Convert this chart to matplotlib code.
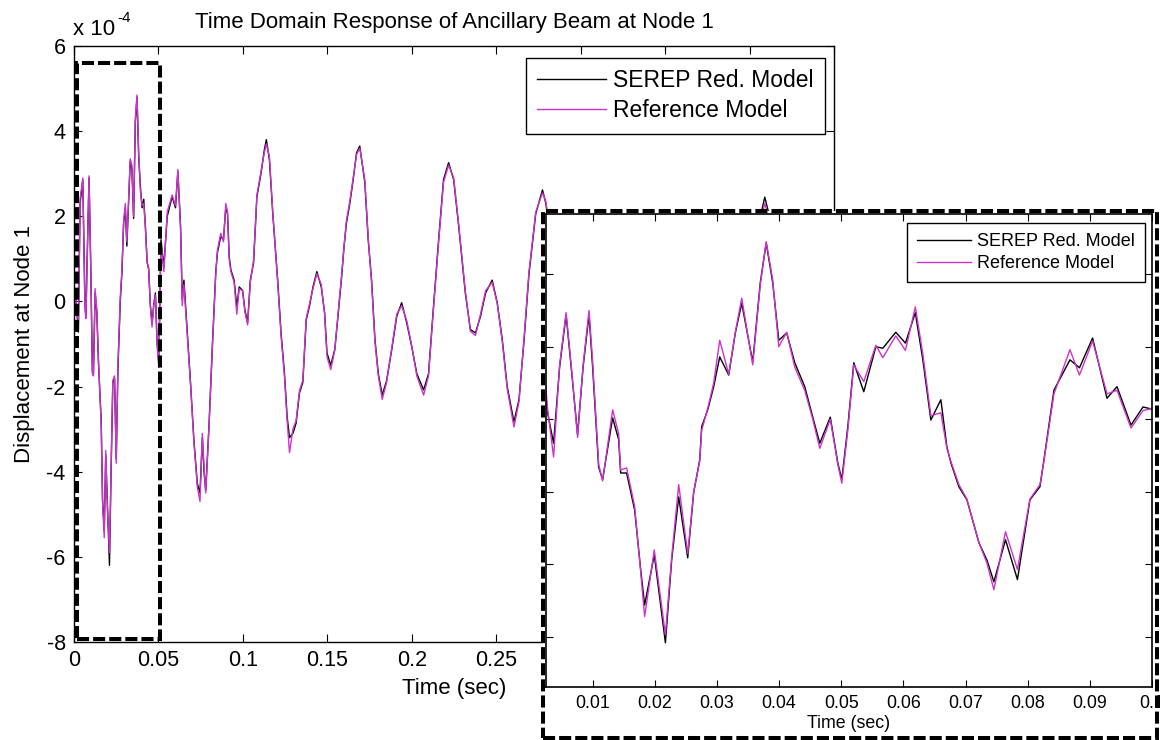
import matplotlib.pyplot as plt
from matplotlib.patches import Rectangle

plt.rcParams['font.family'] = ['Liberation Sans', 'DejaVu Sans']
plt.rcParams['axes.unicode_minus'] = False

# displacement at node 1, in units of 1e-4
t_main = [0.0, 0.0006, 0.0026, 0.0036, 0.0052, 0.0065, 0.0071, 0.0075, 0.0089, 0.0099,
          0.0109, 0.0115, 0.0125, 0.0135, 0.0145, 0.0161, 0.0169, 0.0179, 0.0188, 0.0198,
          0.0210, 0.0220, 0.0230, 0.0240, 0.0250, 0.0260, 0.0274, 0.0284, 0.0294, 0.0304,
          0.0313, 0.0323, 0.0333, 0.0343, 0.0353, 0.0363, 0.0373, 0.0383, 0.0393, 0.0403,
          0.0413, 0.0423, 0.0433, 0.0442, 0.0452, 0.0462, 0.0472, 0.0482, 0.0492, 0.0502,
          0.0515, 0.0532, 0.0552, 0.0581, 0.0601, 0.0615, 0.0631, 0.0641, 0.0651, 0.0671,
          0.0690, 0.0710, 0.0730, 0.0746, 0.0760, 0.0770, 0.0780, 0.0800, 0.0819, 0.0839,
          0.0849, 0.0869, 0.0885, 0.0899, 0.0909, 0.0919, 0.0929, 0.0948, 0.0964, 0.0978,
          0.0998, 0.1012, 0.1028, 0.1044, 0.1063, 0.1083, 0.1107, 0.1127, 0.1139, 0.1157,
          0.1177, 0.1206, 0.1226, 0.1246, 0.1262, 0.1276, 0.1296, 0.1315, 0.1335, 0.1355,
          0.1375, 0.1395, 0.1415, 0.1438, 0.1464, 0.1484, 0.1498, 0.1520, 0.1544, 0.1563,
          0.1583, 0.1599, 0.1613, 0.1633, 0.1653, 0.1673, 0.1692, 0.1722, 0.1742, 0.1762,
          0.1782, 0.1802, 0.1825, 0.1851, 0.1881, 0.1911, 0.1940, 0.1970, 0.2000, 0.2030,
          0.2070, 0.2099, 0.2129, 0.2159, 0.2188, 0.2218, 0.2248, 0.2278, 0.2317, 0.2347,
          0.2377, 0.2407, 0.2437, 0.2476, 0.2506, 0.2536, 0.2565, 0.2605, 0.2635, 0.2665,
          0.2694, 0.2734, 0.2774, 0.2794, 0.2813, 0.290, 0.300, 0.310, 0.320, 0.333,
          0.345, 0.355, 0.365, 0.375, 0.387, 0.395, 0.402, 0.409, 0.415, 0.425,
          0.435, 0.445, 0.450]

serep_main = [0.0, 0.3, -0.72, 2.3, 2.85, -0.08, -0.35, 0.5, 2.9, 0.85,
              -1.65, -1.7, 0.2, -0.25, -1.45, -2.8, -4.65, -5.4, -3.6, -4.8,
              -6.2, -3.9, -1.9, -1.8, -3.7, -1.6, 0.0, 0.7, 1.85, 2.2,
              1.3, 2.3, 3.3, 3.1, 1.95, 4.2, 4.8, 3.4, 2.7, 2.2,
              2.4, 1.75, 0.93, 0.75, -0.08, -0.53, -0.08, 0.2, -0.98, -1.45,
              1.45, 0.81, 2.0, 2.46, 2.2, 3.05, 1.76, 0.04, 0.5, -0.74,
              -1.92, -3.26, -4.27, -4.5, -3.2, -4.0, -4.44, -2.86, -1.07, 0.67,
              1.14, 1.53, 1.45, 2.22, 2.06, 1.05, 0.74, 0.5, -0.13, 0.34,
              0.26, -0.2, -0.5, 0.5, 0.9, 2.46, 3.0, 3.56, 3.8, 3.33,
              2.06, 0.5, -0.74, -1.68, -2.71, -3.2, -3.1, -2.86, -2.15, -1.9,
              -0.43, -0.1, 0.34, 0.7, 0.34, -0.27, -1.21, -1.5, -1.13, -0.35,
              0.5, 1.29, 1.84, 2.3, 2.86, 3.49, 3.65, 2.79, 1.45, 0.5,
              -0.9, -1.7, -2.2, -1.86, -1.14, -0.35, -0.03, -0.5, -1.07, -1.7,
              -2.08, -1.7, -0.1, 1.45, 2.86, 3.26, 2.86, 1.76, 0.2, -0.66,
              -0.74, -0.35, 0.2, 0.5, -0.03, -0.9, -2.0, -2.83, -2.3, -0.9,
              0.65, 2.06, 2.62, 2.3, 1.76, 0.0, -1.8, -2.2, -0.5, 1.9,
              0.3, -1.0, -2.4, -1.2, 1.0, 0.2, 1.2, 2.45, 1.5, -0.8,
              -2.2, -1.0, 0.3]

ref_main = [0.0, 0.2, -0.5, 2.4, 2.9, -0.2, -0.4, 0.4, 2.95, 0.9,
            -1.7, -1.75, 0.3, -0.2, -1.4, -2.9, -4.7, -5.55, -3.5, -4.9,
            -5.9, -3.8, -1.85, -1.75, -3.8, -1.5, 0.1, 0.75, 1.9, 2.3,
            1.4, 2.4, 3.35, 3.2, 2.0, 4.3, 4.85, 3.5, 2.6, 2.25,
            2.3, 1.7, 0.9, 0.8, -0.1, -0.6, -0.1, 0.15, -1.0, -1.55,
            1.35, 0.7, 2.1, 2.5, 2.25, 3.1, 1.7, -0.1, 0.4, -0.8,
            -1.95, -3.3, -4.35, -4.7, -3.1, -3.9, -4.5, -2.9, -1.1, 0.6,
            1.2, 1.6, 1.4, 2.3, 2.1, 1.0, 0.7, 0.45, -0.3, 0.3,
            0.25, -0.25, -0.55, 0.45, 0.95, 2.5, 3.05, 3.5, 3.7, 3.4,
            2.1, 0.45, -0.8, -1.75, -2.8, -3.55, -3.0, -2.8, -2.1, -1.85,
            -0.4, -0.05, 0.3, 0.65, 0.4, -0.3, -1.3, -1.6, -1.15, -0.3,
            0.55, 1.3, 1.9, 2.35, 2.9, 3.45, 3.6, 2.85, 1.5, 0.45,
            -0.95, -1.75, -2.3, -1.9, -1.1, -0.3, -0.1, -0.45, -1.05, -1.75,
            -2.2, -1.75, -0.15, 1.4, 2.8, 3.2, 2.9, 1.8, 0.25, -0.7,
            -0.8, -0.3, 0.25, 0.45, -0.05, -0.95, -2.05, -2.95, -2.35, -0.85,
            0.7, 2.1, 2.55, 2.35, 1.8, 0.05, -1.85, -2.25, -0.45, 1.85,
            0.35, -1.05, -2.45, -1.15, 0.95, 0.25, 1.15, 2.3, 1.55, -0.85,
            -2.25, -0.95, 0.3]

main_xticks = [0, 0.05, 0.1, 0.15, 0.2, 0.25, 0.3, 0.35, 0.4, 0.45]
main_xticklabels = ['0', '0.05', '0.1', '0.15', '0.2', '0.25', '0.3', '0.35', '0.4', '0.45']
main_yticks = [-8, -6, -4, -2, 0, 2, 4, 6]

# close-up of the first 0.1 s
t_zoom = [0.0025, 0.00275, 0.00372, 0.00469, 0.00573, 0.00655, 0.00758, 0.00847, 0.00942, 0.0100,
          0.01097, 0.01161, 0.01322, 0.01419, 0.01451, 0.01547, 0.01676, 0.01773, 0.01837, 0.01992,
          0.02171, 0.02272, 0.02385, 0.0253, 0.02626, 0.02723, 0.02755, 0.02852, 0.02948, 0.03045,
          0.0319, 0.03296, 0.03399, 0.03576, 0.03697, 0.03793, 0.03898, 0.03995, 0.04123, 0.04252,
          0.04413, 0.04542, 0.04655, 0.04824, 0.04945, 0.05009, 0.05106, 0.05202, 0.05363, 0.05557,
          0.05669, 0.05878, 0.06033, 0.06192, 0.06313, 0.06442, 0.06603, 0.06700, 0.06764, 0.06893,
          0.07022, 0.07215, 0.07344, 0.07456, 0.07643, 0.07835, 0.08036, 0.08197, 0.08261, 0.08422,
          0.0868, 0.08833, 0.09044, 0.09276, 0.09437, 0.09662, 0.09855, 0.1]

serep_zoom = [1.3, 1.09, 0.67, 1.72, 2.44, 1.72, 0.79, 1.72, 2.44, 1.72,
              0.34, 0.17, 1.02, 0.72, 0.26, 0.26, -0.25, -1.07, -1.56, -0.87,
              -2.08, -0.94, -0.07, -0.91, -0.01, 0.44, 0.9, 1.13, 1.45, 1.86,
              1.61, 2.19, 2.6, 1.79, 2.88, 3.43, 2.88, 2.09, 2.19, 1.78,
              1.45, 1.03, 0.67, 1.03, 0.4, 0.17, 0.9, 1.78, 1.38, 2.0,
              1.98, 2.2, 2.05, 2.47, 1.82, 0.99, 1.27, 0.62, 0.4, 0.07,
              -0.11, -0.7, -0.94, -1.24, -0.66, -1.21, -0.11, 0.07, 0.44, 1.4,
              1.82, 1.71, 2.12, 1.29, 1.45, 0.92, 1.17, 1.14]

ref_zoom = [1.4, 1.15, 0.48, 1.75, 2.47, 1.75, 0.75, 1.75, 2.5, 1.8,
            0.38, 0.15, 1.13, 0.8, 0.3, 0.33, -0.2, -1.1, -1.72, -0.8,
            -1.97, -0.9, 0.1, -0.85, 0.0, 0.42, 0.85, 1.15, 1.5, 2.09,
            1.62, 2.2, 2.67, 1.75, 2.85, 3.45, 2.92, 2.0, 2.2, 1.72,
            1.4, 1.0, 0.6, 1.0, 0.38, 0.12, 0.85, 1.75, 1.52, 2.02,
            1.85, 2.15, 1.95, 2.55, 1.9, 1.05, 1.09, 0.6, 0.42, 0.1,
            -0.1, -0.7, -0.98, -1.35, -0.55, -1.07, -0.1, 0.1, 0.42, 1.35,
            1.96, 1.61, 2.08, 1.35, 1.4, 0.88, 1.12, 1.15]

zoom_xticks = [0.01, 0.02, 0.03, 0.04, 0.05, 0.06, 0.07, 0.08, 0.09, 0.1]
zoom_xticklabels = ['0.01', '0.02', '0.03', '0.04', '0.05', '0.06', '0.07', '0.08', '0.09', '0.1']
zoom_yticks = [-2, -1, 0, 1, 2, 3]

W, H = 1160, 740
MAG = '#cc33cc'
DASH = (0, (3, 1))


def fbox(left, top, right, bottom):
    # pixel box -> figure fraction rect
    return [left / W, 1 - bottom / H, (right - left) / W, (bottom - top) / H]


fig = plt.figure(figsize=(W / 100, H / 100), dpi=100)

ax = fig.add_axes(fbox(74, 46, 834, 642))
ax.plot(t_main, serep_main, color='k', lw=1.0, label='SEREP Red. Model')
ax.plot(t_main, ref_main, color=MAG, lw=1.0, label='Reference Model')
ax.set_xlim(0, 0.45)
ax.set_ylim(-8, 6)
ax.set_xticks(main_xticks)
ax.set_xticklabels(main_xticklabels)
ax.set_yticks(main_yticks)
ax.tick_params(direction='in', top=True, right=True, length=6, width=0.8,
               labelsize=15.5, pad=6)
for s in ax.spines.values():
    s.set_linewidth(1.0)
ax.set_title('Time Domain Response of Ancillary Beam at Node 1', fontsize=16, pad=13)
ax.set_xlabel('Time (sec)', fontsize=16, labelpad=5)
ax.set_ylabel('Displacement at Node 1', fontsize=16, labelpad=8)
fig.text(73 / W, 1 - 35 / H, 'x 10', fontsize=16, ha='left', va='baseline')
fig.text(117 / W, 1 - 22 / H, '-4', fontsize=11, ha='left', va='baseline')

leg = ax.legend(loc='upper right', bbox_to_anchor=((825 - 74) / 760, 1 - 12 / 596),
                borderaxespad=0, fancybox=False, edgecolor='k', framealpha=1,
                fontsize=16.5, handlelength=3.0, handletextpad=0.3,
                borderpad=0.5, labelspacing=0.3)
leg.get_frame().set_linewidth(1.0)

# dashed box around the first 0.05 s
ax.add_patch(Rectangle((0.0016, -7.94), 0.0496, 13.55, fill=False, ec='k',
                       lw=2.9, ls=DASH, zorder=4))

# white panel behind the close-up
fig.add_artist(Rectangle((543 / W, 1 - 738 / H), 614 / W, 527 / H,
                         transform=fig.transFigure, fc='white', ec='none', zorder=2))
fig.add_artist(Rectangle((543 / W, 1 - 738 / H), 614 / W, 527 / H,
                         transform=fig.transFigure, fill=False, ec='k', lw=2.9,
                         ls=DASH, zorder=6))

axz = fig.add_axes(fbox(546, 214, 1152, 687), zorder=3)
axz.plot(t_zoom, serep_zoom, color='k', lw=1.0, label='SEREP Red. Model')
axz.plot(t_zoom, ref_zoom, color=MAG, lw=1.0, label='Reference Model')
axz.set_xlim(0.0025, 0.1)
axz.set_ylim(-2.69, 3.83)
axz.set_xticks(zoom_xticks)
axz.set_xticklabels(zoom_xticklabels)
axz.set_yticks(zoom_yticks)
axz.set_yticklabels([])
axz.tick_params(direction='in', top=True, right=True, length=5, width=0.8,
                labelsize=12.8, pad=6)
for s in axz.spines.values():
    s.set_linewidth(1.2)
axz.set_xlabel('Time (sec)', fontsize=12.8, labelpad=2)

legz = axz.legend(loc='upper right', bbox_to_anchor=((1145 - 546) / 606, 1 - 9 / 473),
                  borderaxespad=0, fancybox=False, edgecolor='k', framealpha=1,
                  fontsize=13, handlelength=3.0, handletextpad=0.35,
                  borderpad=0.55, labelspacing=0.3)
legz.get_frame().set_linewidth(1.0)

fig.savefig('out.png', dpi=100)
